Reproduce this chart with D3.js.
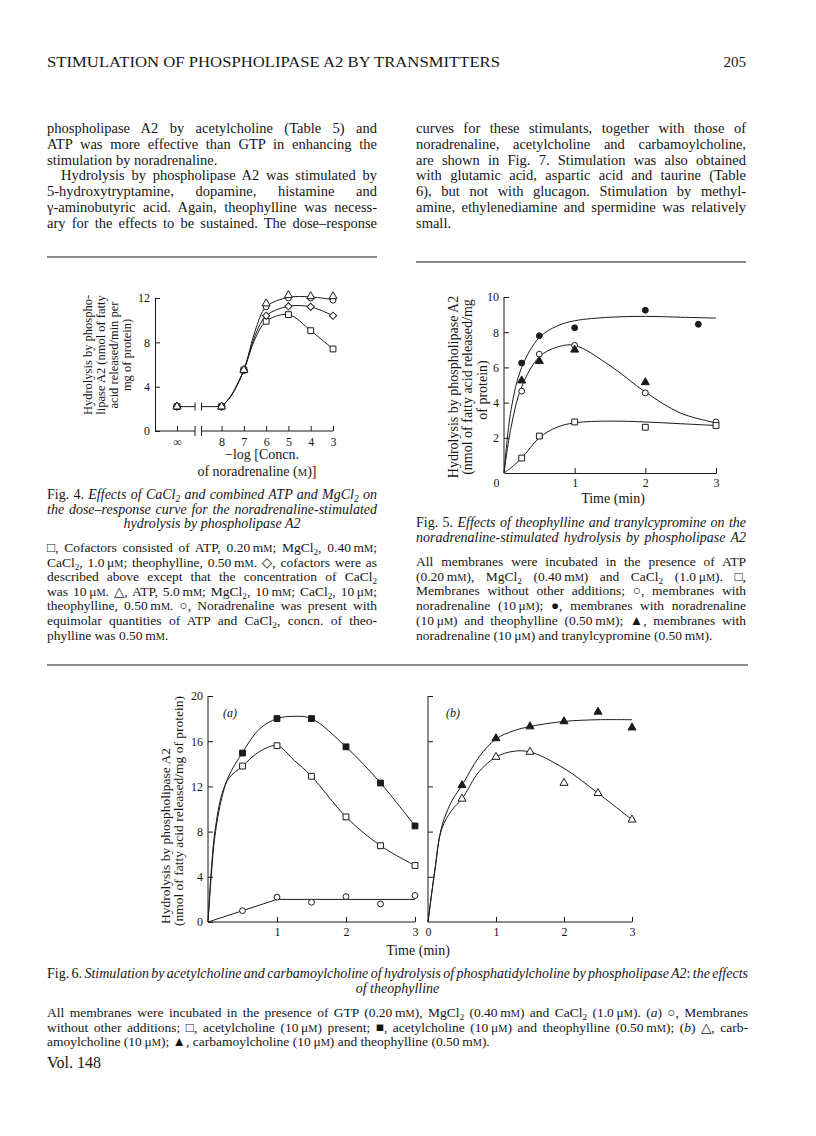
<!DOCTYPE html>
<html>
<head>
<meta charset="utf-8">
<script src="https://cdn.jsdelivr.net/npm/d3@7"></script>
<style>
  body { margin: 0; background: #fff; }
  text { font-family: "Liberation Serif", "DejaVu Serif", serif; fill: #161616; }
</style>
</head>
<body>
<div id="page"></div>
<script>
// ---------- page text ----------
var headerTitle = "STIMULATION OF PHOSPHOLIPASE A2 BY TRANSMITTERS";
var headerPage = "205";

var leftColumnLines = [
  "phospholipase A2 by acetylcholine (Table 5) and",
  "ATP was more effective than GTP in enhancing the",
  "stimulation by noradrenaline.",
  "Hydrolysis by phospholipase A2 was stimulated by",
  "5-hydroxytryptamine, dopamine, histamine and",
  "γ-aminobutyric acid. Again, theophylline was necess-",
  "ary for the effects to be sustained. The dose–response"
];
var rightColumnLines = [
  "curves for these stimulants, together with those of",
  "noradrenaline, acetylcholine and carbamoylcholine,",
  "are shown in Fig. 7. Stimulation was also obtained",
  "with glutamic acid, aspartic acid and taurine (Table",
  "6), but not with glucagon. Stimulation by methyl-",
  "amine, ethylenediamine and spermidine was relatively",
  "small."
];

var fig4YLabel = ["Hydrolysis by phospho-", "lipase A2 (nmol of fatty", "acid released/min per", "mg of protein)"];
var fig4XLabel = ["−log [Concn.", "of noradrenaline (<sc>M</sc>)]"];
var fig4Caption = [
  "Fig. 4. <i>Effects of CaCl<sub>2</sub> and combined ATP and MgCl<sub>2</sub> on</i>",
  "<i>the dose–response curve for the noradrenaline-stimulated</i>",
  "<i>hydrolysis by phospholipase A2</i>"
];
var fig4Legend = [
  "□, Cofactors consisted of ATP, 0.20\u2009m<sc>M</sc>; MgCl<sub>2</sub>, 0.40\u2009m<sc>M</sc>;",
  "CaCl<sub>2</sub>, 1.0\u2009μ<sc>M</sc>; theophylline, 0.50\u2009m<sc>M</sc>. ◇, cofactors were as",
  "described above except that the concentration of CaCl<sub>2</sub>",
  "was 10\u2009μ<sc>M</sc>. △, ATP, 5.0\u2009m<sc>M</sc>; MgCl<sub>2</sub>, 10\u2009m<sc>M</sc>; CaCl<sub>2</sub>, 10\u2009μ<sc>M</sc>;",
  "theophylline, 0.50\u2009m<sc>M</sc>. ○, Noradrenaline was present with",
  "equimolar quantities of ATP and CaCl<sub>2</sub>, concn. of theo-",
  "phylline was 0.50\u2009m<sc>M</sc>."
];

var fig5YLabel = ["Hydrolysis by phospholipase A2", "(nmol of fatty acid released/mg", "of protein)"];
var fig5XLabel = "Time (min)";
var fig5Caption = [
  "Fig. 5. <i>Effects of theophylline and tranylcypromine on the</i>",
  "<i>noradrenaline-stimulated hydrolysis by phospholipase A2</i>"
];
var fig5Legend = [
  "All membranes were incubated in the presence of ATP",
  "(0.20\u2009m<sc>M</sc>), MgCl<sub>2</sub> (0.40\u2009m<sc>M</sc>) and CaCl<sub>2</sub> (1.0\u2009μ<sc>M</sc>). □,",
  "Membranes without other additions; ○, membranes with",
  "noradrenaline (10\u2009μ<sc>M</sc>); ●, membranes with noradrenaline",
  "(10\u2009μ<sc>M</sc>) and theophylline (0.50\u2009m<sc>M</sc>); ▲, membranes with",
  "noradrenaline (10\u2009μ<sc>M</sc>) and tranylcypromine (0.50\u2009m<sc>M</sc>)."
];

var fig6YLabel = ["Hydrolysis by phospholipase A2", "(nmol of fatty acid released/mg of protein)"];
var fig6XLabel = "Time (min)";
var fig6PanelNames = ["(a)", "(b)"];
var fig6Caption = [
  "Fig. 6. <i>Stimulation by acetylcholine and carbamoylcholine of hydrolysis of phosphatidylcholine by phospholipase A2</i>: <i>the effects</i>",
  "<i>of theophylline</i>"
];
var fig6Legend = [
  "All membranes were incubated in the presence of GTP (0.20\u2009m<sc>M</sc>), MgCl<sub>2</sub> (0.40\u2009m<sc>M</sc>) and CaCl<sub>2</sub> (1.0\u2009μ<sc>M</sc>). (<i>a</i>) ○, Membranes",
  "without other additions; □, acetylcholine (10\u2009μ<sc>M</sc>) present; ■, acetylcholine (10\u2009μ<sc>M</sc>) and theophylline (0.50\u2009m<sc>M</sc>); (<i>b</i>) △, carb-",
  "amoylcholine (10\u2009μ<sc>M</sc>); ▲, carbamoylcholine (10\u2009μ<sc>M</sc>) and theophylline (0.50\u2009m<sc>M</sc>)."
];
var footer = "Vol. 148";

// ---------- Fig. 4 data: x = -log[noradrenaline (M)] ----------
var INF_SLOT = 10;                      // axis slot used for "infinity" (no noradrenaline)
var fig4XTickValues = [INF_SLOT, 8, 7, 6, 5, 4, 3];
var fig4YTicks = [0, 4, 8, 12];
var fig4Conc = [8, 7, 6, 5, 4, 3];
var fig4NoAgonist = 2.2;                // value plotted at infinity, all series
var fig4Square = [2.2, 5.5, 9.9, 10.5, 9.05, 7.4];
var fig4Diamond = [2.2, 5.5, 10.4, 11.25, 11.2, 10.4];
var fig4Circle = [2.2, 5.5, 11.2, 12.0, 12.0, 11.8];
var fig4Triangle = [2.2, 5.5, 11.5, 12.25, 12.15, 12.15];
// hand drawn curves
var fig4FitConc = [8, 7.6, 7, 6.5, 6, 5, 4, 3];
var fig4FitSquare = [2.2, 3.1, 5.5, 8.3, 9.9, 10.5, 9.05, 7.4];
var fig4FitDiamond = [2.2, 3.1, 5.5, 8.6, 10.4, 11.25, 11.2, 10.4];
var fig4FitCircle = [2.2, 3.1, 5.5, 9.0, 11.2, 12.05, 12.1, 11.85];

// ---------- Fig. 5 data: x = time (min) ----------
var fig5XTicks = [0, 1, 2, 3];
var fig5YTicks = [2, 4, 6, 8, 10];
var fig5FilledT = [0.25, 0.5, 1, 2, 2.75];
var fig5Filled = [6.25, 7.8, 8.25, 9.25, 8.45];      // noradrenaline + theophylline
var fig5OpenT = [0.25, 0.5, 1, 2, 3];
var fig5Open = [4.65, 6.75, 7.25, 4.55, 2.9];        // noradrenaline
var fig5TriT = [0.25, 0.5, 1, 2];
var fig5Tri = [5.25, 6.35, 7.0, 5.15];               // noradrenaline + tranylcypromine
var fig5SquareT = [0.25, 0.5, 1, 2, 3];
var fig5Square = [0.85, 2.1, 2.9, 2.6, 2.7];         // no additions
var fig5FitT = [0, 0.1, 0.25, 0.5, 0.75, 1, 1.5, 2, 2.5, 3];
var fig5FitFilled = [0, 3.6, 6.0, 7.7, 8.35, 8.65, 8.85, 8.9, 8.85, 8.8];
var fig5FitOpen = [0, 2.6, 4.9, 6.6, 7.15, 7.25, 6.1, 4.6, 3.4, 2.85];
var fig5FitSquare = [0, 0.3, 0.85, 2.0, 2.6, 2.85, 2.95, 2.9, 2.8, 2.7];

// ---------- Fig. 6 data: x = time (min) ----------
var fig6YTicks = [0, 4, 8, 12, 16, 20];
var fig6Times = [0.5, 1, 1.5, 2, 2.5, 3];
var fig6aFilled = [14.95, 18.0, 18.0, 15.5, 12.3, 8.5];   // acetylcholine + theophylline
var fig6aSquare = [13.8, 15.6, 12.9, 9.3, 6.75, 5.0];     // acetylcholine
var fig6aCircle = [1.0, 2.2, 1.75, 2.25, 1.6, 2.35];      // no additions
var fig6bFilled = [12.1, 16.25, 17.3, 17.75, 18.6, 17.2]; // carbamoylcholine + theophylline
var fig6bOpen = [10.9, 14.6, 15.05, 12.3, 11.4, 9.05];    // carbamoylcholine
var fig6aFitT = [0, 0.05, 0.1, 0.2, 0.3, 0.5, 0.75, 1, 1.25, 1.5, 2, 2.5, 3];
var fig6aFitFilled = [0, 4.3, 7.6, 11.0, 12.9, 15.0, 17.1, 18.0, 18.2, 18.0, 15.5, 12.3, 8.5];
var fig6aFitSquare = [0, 4.8, 8.0, 11.3, 12.7, 13.8, 15.1, 15.6, 14.3, 12.9, 9.3, 6.75, 5.0];
var fig6aLineT = [0, 1, 3];
var fig6aLine = [0, 2.0, 2.0];
var fig6bFitT = [0, 0.1, 0.2, 0.35, 0.5, 0.75, 1, 1.25, 1.5, 2, 2.5, 3];
var fig6bFitFilled = [0, 4.6, 8.4, 10.7, 12.1, 14.6, 16.2, 16.9, 17.3, 17.75, 17.9, 17.9];
var fig6bFitOpen = [0, 4.5, 8.2, 9.9, 10.9, 13.3, 14.6, 15.1, 15.05, 13.6, 11.4, 9.05];

// ---------- drawing ----------
var ink = "#1b1b1b";
var intFmt = d3.format("d");
var svg = d3.select("#page").append("svg")
    .attr("width", 816)
    .attr("height", 1136);
svg.append("rect").attr("width", 816).attr("height", 1136).attr("fill", "#fff");

var colL = [47, 377], colR = [416, 746], full = [47, 748];

// tiny markup: <i>, <sub>, <sc> (small capital)
function rich(g, str, x, y, size) {
  var t = g.append("text").attr("x", x).attr("y", y).style("font-size", size + "px");
  var ital = false, sub = false, sc = false, shift = 0;
  str.split(/(<\/?(?:i|sub|sc)>)/).forEach(function(p) {
    if (p === "<i>") { ital = true; return; }
    if (p === "</i>") { ital = false; return; }
    if (p === "<sub>") { sub = true; return; }
    if (p === "</sub>") { sub = false; return; }
    if (p === "<sc>") { sc = true; return; }
    if (p === "</sc>") { sc = false; return; }
    if (!p) return;
    var ts = t.append("tspan").text(p);
    if (ital) ts.style("font-style", "italic");
    if (sub) ts.style("font-size", (size * 0.68) + "px");
    if (sc) ts.style("font-size", (size * 0.76) + "px");
    var want = sub ? 3 : 0;
    if (want !== shift) { ts.attr("dy", want - shift); shift = want; }
  });
  return t;
}

function justify(t, w) {
  var natural = t.node().getComputedTextLength();
  var spaces = (t.text().match(/ /g) || []).length;
  var ws = spaces ? (w - natural) / spaces : 0;
  if (spaces && ws > -1.2) t.style("word-spacing", ws + "px");
  else t.attr("textLength", w).attr("lengthAdjust", "spacingAndGlyphs");
}

function paragraph(lines, x0, x1, y0, lead, size, opt) {
  opt = opt || {};
  lines.forEach(function(s, i) {
    var y = y0 + i * lead;
    var ind = (opt.indent || []).indexOf(i) >= 0 ? 14 : 0;
    if ((opt.center || []).indexOf(i) >= 0) {
      rich(svg, s, (x0 + x1) / 2, y, size).attr("text-anchor", "middle");
    } else {
      var t = rich(svg, s, x0 + ind, y, size);
      if ((opt.left || []).indexOf(i) < 0) justify(t, x1 - x0 - ind);
    }
  });
}

function rule(x0, x1, y) {
  svg.append("line").attr("x1", x0).attr("x2", x1).attr("y1", y).attr("y2", y)
    .attr("stroke", ink).attr("stroke-width", 1.2);
}

function styleAxis(a, fs) {
  a.select(".domain").attr("stroke", ink).attr("stroke-width", 1);
  a.selectAll(".tick line").attr("stroke", ink).attr("stroke-width", 1);
  a.selectAll(".tick text").style("font-size", fs + "px");
}

var shapes = {
  square: [d3.symbolSquare, 34],
  circle: [d3.symbolCircle, 27],
  triangle: [d3.symbolTriangle, 28],
  diamond: [d3.symbolSquare, 26]
};

function drawCurve(g, x, y, xs, ys, curve) {
  g.append("path")
    .datum(d3.zip(xs, ys))
    .attr("d", d3.line()
      .x(function(d) { return x(d[0]); })
      .y(function(d) { return y(d[1]); })
      .curve(curve || d3.curveCatmullRom.alpha(0.5)))
    .attr("fill", "none")
    .attr("stroke", ink)
    .attr("stroke-width", 1);
}

function drawMarks(g, x, y, xs, ys, shape, filled) {
  g.append("g").selectAll("path")
    .data(d3.zip(xs, ys))
    .enter()
    .append("path")
      .attr("transform", function(d) {
        return "translate(" + x(d[0]) + "," + y(d[1]) + ")" + (shape === "diamond" ? " rotate(45)" : "");
      })
      .attr("d", d3.symbol().type(shapes[shape][0]).size(shapes[shape][1]))
      .attr("fill", filled ? ink : "#fff")
      .attr("stroke", ink)
      .attr("stroke-width", 1);
}

function yLabel(lines, xs, ys, size) {
  lines.forEach(function(s, i) {
    svg.append("text")
      .attr("transform", "translate(" + xs[i] + "," + ys[i] + ") rotate(-90)")
      .attr("text-anchor", "middle")
      .style("font-size", size + "px")
      .text(s);
  });
}

// header and body text
rich(svg, headerTitle, 47, 67, 14).attr("textLength", 453).attr("lengthAdjust", "spacingAndGlyphs");
rich(svg, headerPage, 746, 67, 15).attr("text-anchor", "end");
paragraph(leftColumnLines, colL[0], colL[1], 133, 15.8, 14.5, {left: [2], indent: [3]});
paragraph(rightColumnLines, colR[0], colR[1], 133, 15.8, 14.5, {left: [6]});
rule(colL[0], colL[1], 257);
rule(colR[0], colR[1], 262);

// ---------- Fig. 4 ----------
var f4 = svg.append("g");
var f4x = d3.scaleLinear().domain([INF_SLOT, 3]).range([177, 333]);
var f4y = d3.scaleLinear().domain([0, 12]).range([431, 298]);
var f4Left = 155, breakA = 9.19, breakB = 8.9;

var f4ya = f4.append("g")
  .attr("transform", "translate(" + f4Left + ",0)")
  .call(d3.axisLeft(f4y).tickValues(fig4YTicks).tickFormat(intFmt).tickSize(-5).tickSizeOuter(0).tickPadding(5));
styleAxis(f4ya, 12);

var f4xa = f4.append("g")
  .attr("transform", "translate(0," + f4y(0) + ")")
  .call(d3.axisBottom(f4x).tickValues(fig4XTickValues)
    .tickFormat(function(d) { return d === INF_SLOT ? "∞" : intFmt(d); })
    .tickSize(-5).tickSizeOuter(0).tickPadding(6));
f4xa.select(".domain").remove();
styleAxis(f4xa, 12);
// broken x axis
[[f4Left, f4x(breakA)], [f4x(breakB), f4x(3)]].forEach(function(s) {
  f4xa.append("line").attr("x1", s[0]).attr("x2", s[1]).attr("stroke", ink);
});
[breakA, breakB].forEach(function(b) {
  f4xa.append("line").attr("x1", f4x(b)).attr("x2", f4x(b)).attr("y1", -5).attr("y2", 5).attr("stroke", ink);
});
// broken line from infinity to 8
var yInf = f4y(fig4NoAgonist);
f4.append("line").attr("x1", f4x(INF_SLOT)).attr("x2", f4x(breakA)).attr("y1", yInf).attr("y2", yInf).attr("stroke", ink);
f4.append("line").attr("x1", f4x(breakB)).attr("x2", f4x(8)).attr("y1", yInf).attr("y2", yInf).attr("stroke", ink);
[breakA, breakB].forEach(function(b) {
  f4.append("line").attr("x1", f4x(b)).attr("x2", f4x(b)).attr("y1", yInf - 4).attr("y2", yInf + 4).attr("stroke", ink);
});

drawCurve(f4, f4x, f4y, fig4FitConc, fig4FitSquare);
drawCurve(f4, f4x, f4y, fig4FitConc, fig4FitDiamond);
drawCurve(f4, f4x, f4y, fig4FitConc, fig4FitCircle);
[[fig4Square, "square"], [fig4Diamond, "diamond"], [fig4Circle, "circle"], [fig4Triangle, "triangle"]].forEach(function(s) {
  drawMarks(f4, f4x, f4y, [INF_SLOT].concat(fig4Conc), [fig4NoAgonist].concat(s[0]), s[1], false);
});

yLabel(fig4YLabel, [92, 105, 118, 131], [355, 355, 355, 355], 12.5);
rich(svg, fig4XLabel[0], 262, 459, 14).attr("text-anchor", "middle");
rich(svg, fig4XLabel[1], 257, 476, 14).attr("text-anchor", "middle");
paragraph(fig4Caption, colL[0], colL[1], 499, 14.5, 14, {center: [2]});
paragraph(fig4Legend, colL[0], colL[1], 552, 14.6, 13.5, {left: [6]});

// ---------- Fig. 5 ----------
var f5 = svg.append("g");
var f5x = d3.scaleLinear().domain([0, 3]).range([504, 716]);
var f5y = d3.scaleLinear().domain([0, 10]).range([473, 297]);

var f5ya = f5.append("g")
  .attr("transform", "translate(" + f5x(0) + ",0)")
  .call(d3.axisLeft(f5y).tickValues(fig5YTicks).tickFormat(intFmt).tickSize(-5).tickSizeOuter(0).tickPadding(5));
f5ya.select(".domain").attr("d", "M0," + f5y(0) + "V" + f5y(10));
styleAxis(f5ya, 12);
var f5xa = f5.append("g")
  .attr("transform", "translate(0," + f5y(0) + ")")
  .call(d3.axisBottom(f5x).tickValues(fig5XTicks).tickFormat(intFmt).tickSize(-5).tickSizeOuter(0).tickPadding(5));
f5xa.selectAll(".tick text").filter(function(d) { return d === 0; }).attr("dx", -8);
styleAxis(f5xa, 12);

drawCurve(f5, f5x, f5y, fig5FitT, fig5FitFilled);
drawCurve(f5, f5x, f5y, fig5FitT, fig5FitOpen);
drawCurve(f5, f5x, f5y, fig5FitT, fig5FitSquare);
drawMarks(f5, f5x, f5y, fig5FilledT, fig5Filled, "circle", true);
drawMarks(f5, f5x, f5y, fig5OpenT, fig5Open, "circle", false);
drawMarks(f5, f5x, f5y, fig5TriT, fig5Tri, "triangle", true);
drawMarks(f5, f5x, f5y, fig5SquareT, fig5Square, "square", false);

yLabel(fig5YLabel, [458, 472, 487], [387, 387, 390], 14);
rich(svg, fig5XLabel, 613, 503, 14).attr("text-anchor", "middle");
paragraph(fig5Caption, colR[0], colR[1], 527, 14.5, 14);
paragraph(fig5Legend, colR[0], colR[1], 566, 14.7, 13.5, {left: [5]});

rule(full[0], full[1], 665);

// ---------- Fig. 6 ----------
var f6 = svg.append("g");
var f6y = d3.scaleLinear().domain([0, 20]).range([922, 696]);
var f6xa = d3.scaleLinear().domain([0, 3]).range([208, 415]);
var f6xb = d3.scaleLinear().domain([0, 3]).range([428, 632]);

[[f6xa, true], [f6xb, false]].forEach(function(p) {
  var x = p[0];
  var ya = f6.append("g")
    .attr("transform", "translate(" + x(0) + ",0)")
    .call(d3.axisLeft(f6y).tickValues(p[1] ? fig6YTicks : fig6YTicks.slice(1))
      .tickFormat(p[1] ? intFmt : function() { return ""; })
      .tickSize(-5).tickSizeOuter(0).tickPadding(5));
  ya.select(".domain").attr("d", "M0," + f6y(0) + "V" + f6y(20));
  styleAxis(ya, 12);
  var xa = f6.append("g")
    .attr("transform", "translate(0," + f6y(0) + ")")
    .call(d3.axisBottom(x).tickValues(p[1] ? [1, 2, 3] : [0, 1, 2, 3]).tickFormat(intFmt)
      .tickSize(-5).tickSizeOuter(0).tickPadding(5));
  xa.select(".domain").attr("d", "M" + x(0) + ",0H" + x(3));
  styleAxis(xa, 12);
});

drawCurve(f6, f6xa, f6y, fig6aFitT, fig6aFitFilled);
drawCurve(f6, f6xa, f6y, fig6aFitT, fig6aFitSquare);
drawCurve(f6, f6xa, f6y, fig6aLineT, fig6aLine, d3.curveLinear);
drawMarks(f6, f6xa, f6y, fig6Times, fig6aFilled, "square", true);
drawMarks(f6, f6xa, f6y, fig6Times, fig6aSquare, "square", false);
drawMarks(f6, f6xa, f6y, fig6Times, fig6aCircle, "circle", false);

drawCurve(f6, f6xb, f6y, fig6bFitT, fig6bFitFilled);
drawCurve(f6, f6xb, f6y, fig6bFitT, fig6bFitOpen);
drawMarks(f6, f6xb, f6y, fig6Times, fig6bFilled, "triangle", true);
drawMarks(f6, f6xb, f6y, fig6Times, fig6bOpen, "triangle", false);

svg.append("text").attr("x", 223).attr("y", 717).style("font-size", "12px").style("font-style", "italic").text(fig6PanelNames[0]);
svg.append("text").attr("x", 446).attr("y", 717).style("font-size", "12px").style("font-style", "italic").text(fig6PanelNames[1]);

yLabel(fig6YLabel, [170, 183], [836, 811], 13.5);
rich(svg, fig6XLabel, 418, 955, 14).attr("text-anchor", "middle");
paragraph(fig6Caption, full[0], full[1], 978, 15, 14, {center: [1]});
paragraph(fig6Legend, full[0], full[1], 1017, 14.5, 13.5, {left: [2]});
rich(svg, footer, 47, 1068, 16);
</script>
</body>
</html>
